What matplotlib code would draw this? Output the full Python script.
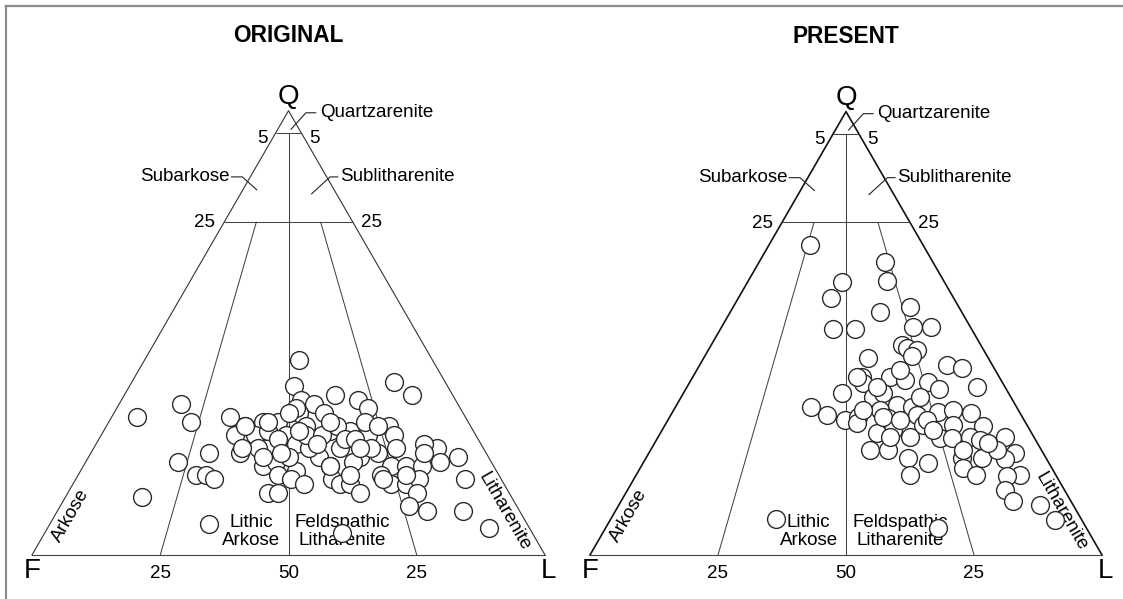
import numpy as np
import matplotlib
matplotlib.use("Agg")
import matplotlib.pyplot as plt
from matplotlib.lines import Line2D

plt.rcParams['font.family'] = ['Liberation Sans', 'DejaVu Sans']

# QFL point counts (%): quartz (Q) and lithic fragments (L); feldspar F = 100 - Q - L
orig_q = [44, 38, 39, 36, 31, 34, 30, 31, 35, 34, 36, 35, 33, 32, 30, 30, 29, 27, 27, 27,
          29, 32, 28, 28, 27, 29, 27, 25, 24, 23, 24, 22, 22, 23, 23, 21, 20, 21, 19, 20,
          21, 20, 20, 20, 24, 25, 21, 22, 18, 18, 17, 18, 17, 16, 17, 16, 16, 18, 16, 16,
          17, 14, 17, 13, 14, 14, 14, 11, 10, 10, 7, 5, 6, 29, 28, 24, 24, 26, 22, 24,
          27, 27, 29, 26, 26, 24, 30, 29, 20, 23, 33, 32, 30, 30, 18, 17, 22, 23, 28, 25,
          24, 24, 18]
orig_l = [30, 32, 51, 56, 5, 12, 16, 23, 35, 38, 41, 46, 49, 36, 33, 30, 27, 26, 30, 36,
          39, 41, 44, 48, 52, 55, 57, 39, 34, 29, 48, 45, 53, 56, 23, 18, 35, 37, 42, 48,
          52, 60, 63, 66, 67, 64, 69, 72, 23, 25, 27, 39, 42, 45, 50, 52, 54, 59, 62, 65,
          67, 68, 76, 15, 39, 41, 57, 68, 72, 79, 31, 58, 86, 27, 32, 32, 29, 35, 39, 42,
          40, 43, 45, 48, 50, 54, 50, 53, 48, 65, 35, 34, 31, 43, 53, 60, 34, 37, 38, 43,
          59, 52, 64]
orig_f = [100 - q - l for q, l in zip(orig_q, orig_l)]

pres_q = [69.9, 66.1, 61.8, 61.6, 58, 54.8, 55.9, 51, 51, 51.4, 51.4, 47.4, 46.7, 46.2,
          44.9, 44.4, 42.9, 42.2, 37.9, 40.1, 40.1, 39.5, 39, 37.4, 36.5, 38.8, 35.6, 36.5,
          33.4, 31.6, 30.4, 31.1, 32.7, 33.8, 33.4, 31.6, 30.9, 28.2, 29.3, 32.3, 32.7, 32,
          29.1, 29.3, 26.4, 26.4, 26.6, 26.6, 27.5, 23.7, 23.7, 21.9, 20.7, 18, 21.9, 21.9,
          19.6, 18, 26.6, 23, 21.7, 18, 17.8, 14.7, 12.2, 11.3, 7.9, 6.1, 8.1, 40.1, 37.9,
          31.1, 30.4, 30.4, 28.2, 29.8, 32.7, 25.9, 23.7, 26.6, 35.6, 41.7, 23.7, 25.3]
pres_l = [8, 24.6, 27.1, 18.4, 18.1, 29.2, 34.5, 22, 26.3, 37.4, 40.9, 37.3, 38.6, 40.8,
          40.5, 32.1, 48.3, 51.6, 56.6, 33.1, 38.5, 41.8, 46.5, 49.4, 31, 33.9, 37.5, 39,
          26.5, 30.5, 34.6, 36.8, 40.3, 43, 46.2, 48.1, 42.8, 45.1, 50.4, 51.8, 54.5, 58.4,
          62.2, 56.2, 55.2, 57.5, 60.9, 49.2, 42.3, 42.8, 46.4, 51.2, 55.6, 53.5, 61.7, 65.6,
          63, 66.4, 67.7, 71.5, 70.2, 75, 72.5, 73.7, 76.5, 82.3, 86.9, 64.9, 32.3, 32.1,
          37.1, 41.7, 45.3, 50.6, 52.9, 37.3, 37, 63.2, 67.7, 45.3, 46.6, 39.7, 61, 65.1]
pres_f = [100 - q - l for q, l in zip(pres_q, pres_l)]

H = np.sqrt(3) / 2
FS = 13.5


def tern(q, f, l):
    q, f, l = (np.asarray(v, float) for v in (q, f, l))
    s = q + f + l
    q, l = q / s, l / s
    return l + q / 2, q * H


def seg(ax, a, b, **kw):
    # a, b given as (Q, L) fractions
    x0, y0 = tern(a[0], 1 - a[0] - a[1], a[1])
    x1, y1 = tern(b[0], 1 - b[0] - b[1], b[1])
    ax.plot([x0, x1], [y0, y1], solid_capstyle='butt', **kw)


def panel(ax, title, q, f, l, edge_lw, edge_col):
    ax.set_aspect('equal')
    ax.axis('off')
    inner = dict(color='#444444', lw=0.75, zorder=1)
    # outer triangle
    ax.plot([0, 0.5, 1], [0, H, 0], color=edge_col, lw=edge_lw, zorder=1)
    ax.plot([0, 1], [0, 0], color='#444444', lw=0.8, zorder=1)
    # Folk (1974) field boundaries
    seg(ax, (0.95, 0.0), (0.95, 0.05), **inner)
    seg(ax, (0.75, 0.0), (0.75, 0.25), **inner)
    seg(ax, (0.95, 0.025), (0.0, 0.5), **inner)
    seg(ax, (0.75, 0.0625), (0.0, 0.25), **inner)
    seg(ax, (0.75, 0.1875), (0.0, 0.75), **inner)

    # vertex and scale labels
    ax.text(0.5, 0.893, 'Q', fontsize=20, ha='center', va='center')
    ax.text(0.0, -0.031, 'F', fontsize=20, ha='center', va='center')
    ax.text(1.006, -0.031, 'L', fontsize=20, ha='center', va='center')
    for xv, s in [(0.25, '25'), (0.5, '50'), (0.75, '25')]:
        ax.text(xv, -0.036, s, fontsize=FS, ha='center', va='center')
    ax.text(0.449, 0.812, '5', fontsize=FS, ha='center', va='center')
    ax.text(0.551, 0.812, '5', fontsize=FS, ha='center', va='center')
    ax.text(0.336, 0.648, '25', fontsize=FS, ha='center', va='center')
    ax.text(0.662, 0.648, '25', fontsize=FS, ha='center', va='center')

    # field names with leaders
    lead = dict(color='#222222', lw=0.8, zorder=1)
    ax.plot([0.505, 0.534, 0.553], [0.830, 0.862, 0.862], **lead)
    ax.text(0.561, 0.862, 'Quartzarenite', fontsize=FS, ha='left', va='center')
    ax.plot([0.389, 0.410, 0.438], [0.737, 0.737, 0.712], **lead)
    ax.text(0.386, 0.737, 'Subarkose', fontsize=FS, ha='right', va='center')
    ax.plot([0.596, 0.581, 0.545], [0.737, 0.737, 0.704], **lead)
    ax.text(0.600, 0.737, 'Sublitharenite', fontsize=FS, ha='left', va='center')

    ax.text(0.075, 0.077, 'Arkose', fontsize=FS, rotation=60,
            ha='center', va='center', rotation_mode='anchor', zorder=2)
    ax.text(0.921, 0.084, 'Litharenite', fontsize=FS, rotation=-60,
            ha='center', va='center', rotation_mode='anchor', zorder=2)
    ax.text(0.427, 0.046, 'Lithic\nArkose', fontsize=FS, ha='center',
            va='center', linespacing=1.05, zorder=2)
    ax.text(0.605, 0.046, 'Feldspathic\nLitharenite', fontsize=FS, ha='center',
            va='center', linespacing=1.05, zorder=2)

    ax.text(0.5, 1.012, title, fontsize=16.3, fontweight='bold',
            ha='center', va='center')

    x, y = tern(q, f, l)
    ax.scatter(x, y, s=165, facecolor='white', edgecolor='#2b2b2b',
               linewidths=1.0, zorder=3, clip_on=False)


fig = plt.figure(figsize=(11.23, 5.99), dpi=100)

ax1 = fig.add_axes([0, 0, 0.5, 1])
ax1.set_xlim(-32 / 513, 529.5 / 513)
ax1.set_ylim(-44 / 513, 555 / 513)
panel(ax1, 'ORIGINAL', orig_q, orig_f, orig_l, 0.8, '#333333')

ax2 = fig.add_axes([0.5, 0, 0.5, 1])
ax2.set_xlim(-28.5 / 512, 533 / 512)
ax2.set_ylim(-44 / 512, 555 / 512)
panel(ax2, 'PRESENT', pres_q, pres_f, pres_l, 1.2, '#111111')

# page frame
fx, fy = 5.5 / 1123, 1 - 5.5 / 599
fig.add_artist(Line2D([fx, 1], [fy, fy], color='#8c8c8c', lw=1.6))
fig.add_artist(Line2D([fx, fx], [0, fy], color='#8c8c8c', lw=1.6))

fig.savefig('out.png', dpi=100, facecolor='white')
